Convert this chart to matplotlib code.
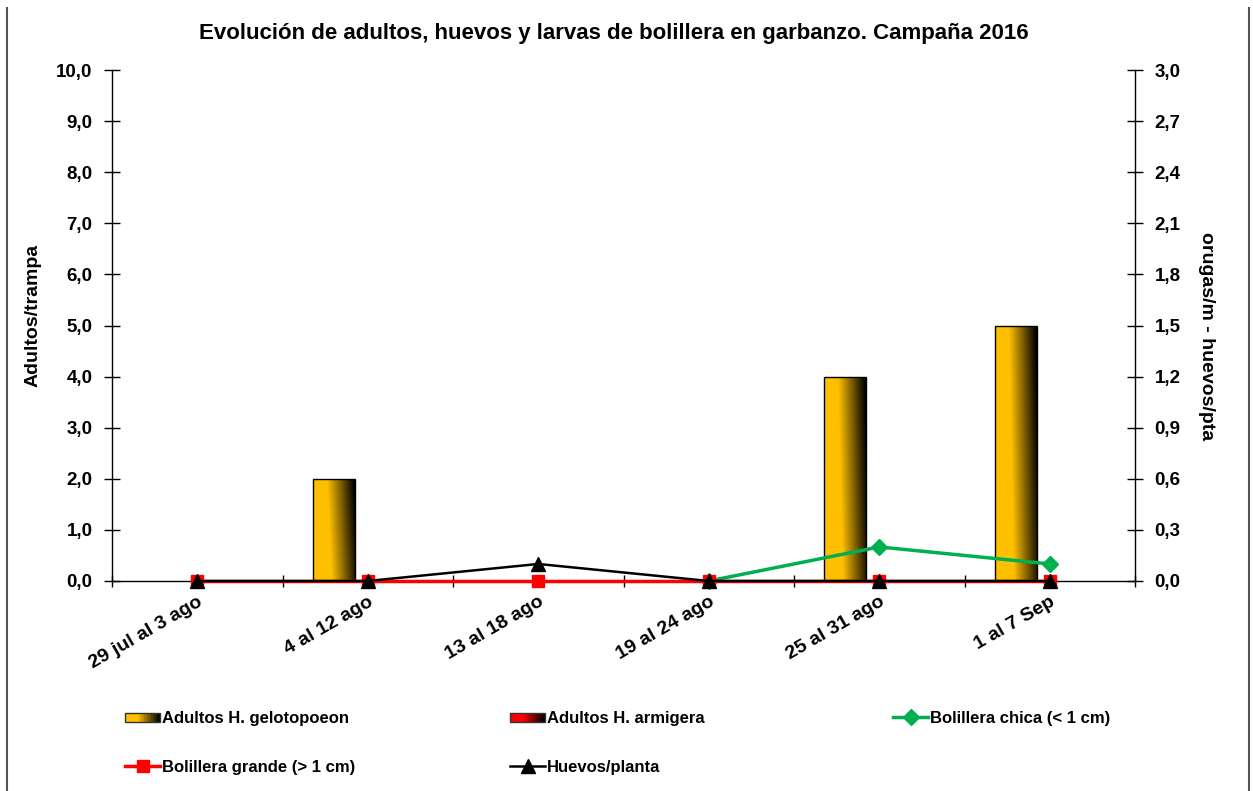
import numpy as np
import matplotlib
matplotlib.use("Agg")
import matplotlib.pyplot as plt
from matplotlib.patches import Rectangle
from matplotlib.lines import Line2D
from matplotlib.legend_handler import HandlerBase
from matplotlib.colors import to_rgb

plt.rcParams['font.family'] = ['Liberation Sans', 'DejaVu Sans']
plt.rcParams['font.weight'] = 'bold'

categories = ["29 jul al 3 ago", "4 al 12 ago", "13 al 18 ago", "19 al 24 ago", "25 al 31 ago", "1 al 7 Sep"]
adultos_gelotopoeon = [0, 2, 0, 0, 4, 5]
adultos_armigera = [0, 0, 0, 0, 0, 0]
bolillera_chica = [np.nan, np.nan, np.nan, 0.0, 0.2, 0.1]
bolillera_grande = [0, 0, 0, 0, 0, 0]
huevos_planta = [0, 0, 0.1, 0, 0, 0]

left_ticks = [0, 1, 2, 3, 4, 5, 6, 7, 8, 9, 10]
right_ticks = [0, 0.3, 0.6, 0.9, 1.2, 1.5, 1.8, 2.1, 2.4, 2.7, 3.0]

GOLD = "#FFC000"
RED = "#FF0000"
GREEN = "#00B050"

W, H = 1253, 791
fig = plt.figure(figsize=(W / 100, H / 100), dpi=100)
ax = fig.add_axes([112 / W, 1 - 581 / H, (1135 - 112) / W, (581 - 70) / H])
ax2 = ax.twinx()


def gradient_img(base, n=64):
    c = np.array(to_rgb(base))
    xs = np.linspace(0, 1, n)
    ys = np.linspace(1, 0, n)  # top row first
    X, Y = np.meshgrid(xs, ys)
    u = X + 0.12 * Y
    t = np.clip((u - 0.45) / 0.65, 0, 1)
    img = c[None, None, :] * (1 - t[..., None])
    return img


x = np.arange(len(categories))
bw = 0.246
off = -0.2
for xi, v in zip(x, adultos_gelotopoeon):
    if v > 0:
        r = Rectangle((xi + off - bw / 2, 0), bw, v, facecolor='none', edgecolor='black', lw=1.0, zorder=3)
        ax.add_patch(r)
        im = ax.imshow(gradient_img(GOLD), extent=(xi + off - bw / 2, xi + off + bw / 2, 0, v),
                       aspect='auto', zorder=2, interpolation='bilinear')
        im.set_clip_path(r)
for xi, v in zip(x, adultos_armigera):
    if v > 0:
        r = Rectangle((xi + off + bw / 2, 0), bw, v, facecolor=RED, edgecolor='black', lw=1.0, zorder=3)
        ax.add_patch(r)

TS = 13.5
ax.set_xlim(-0.5, len(categories) - 0.5)
ax.set_ylim(0, 10)
ax.set_yticks(left_ticks)
ax.set_yticklabels([f"{t:.1f}".replace('.', ',') for t in left_ticks], fontsize=TS, fontweight='bold')
ax.set_xticks(x)
ax.set_xticklabels(categories, rotation=30, ha='right', rotation_mode='anchor', fontsize=14, fontweight='bold')
ax.set_xticks(np.arange(-0.5, len(categories) + 0.5, 1), minor=True)
ax.tick_params(axis='x', which='major', length=0, pad=9)
ax.tick_params(axis='x', which='minor', direction='inout', length=8, width=1)
ax.tick_params(axis='y', direction='inout', length=12, width=1, pad=8)
for s in ['top', 'right']:
    ax.spines[s].set_visible(False)
ax.spines['left'].set_linewidth(1)
ax.spines['bottom'].set_linewidth(1)

ax2.set_ylim(0, 3.0)
ax2.set_yticks(right_ticks)
ax2.set_yticklabels([f"{t:.1f}".replace('.', ',') for t in right_ticks], fontsize=TS, fontweight='bold')
ax2.tick_params(axis='y', direction='inout', length=12, width=1, pad=8)
for s in ['top', 'left', 'bottom']:
    ax2.spines[s].set_visible(False)
ax2.spines['right'].set_linewidth(1)

fig.text(33 / W, 1 - 315 / H, "Adultos/trampa", rotation=90, ha='center', va='center',
         fontsize=14, fontweight='bold')
fig.text(1207 / W, 1 - 336 / H, "orugas/m - huevos/pta", rotation=-90, ha='center', va='center',
         fontsize=14, fontweight='bold')

l_chica, = ax2.plot(x, bolillera_chica, color=GREEN, lw=2.5, marker='D', markersize=8, zorder=3)
l_grande, = ax2.plot(x, bolillera_grande, color=RED, lw=2.5, marker='s', markersize=9, zorder=4)
l_huevos, = ax2.plot(x, huevos_planta, color='black', lw=1.8, marker='^', markersize=10, zorder=5)
for l in (l_chica, l_grande, l_huevos):
    l.set_clip_on(False)

fig.suptitle("Evolución de adultos, huevos y larvas de bolillera en garbanzo. Campaña 2016",
             x=614 / W, y=1 - 33 / H, fontsize=16, fontweight='bold', va='center')


class GradHandle:
    def __init__(self, color):
        self.color = color


class HandlerGrad(HandlerBase):
    def create_artists(self, legend, orig_handle, xdescent, ydescent, width, height, fontsize, trans):
        c = np.array(to_rgb(orig_handle.color))
        n = 24
        arts = []
        h = height * 0.8
        y0 = -ydescent + (height - h) / 2
        for i in range(n):
            t = np.clip((i / (n - 1) - 0.35) / 0.65, 0, 1)
            col = c * (1 - t)
            arts.append(Rectangle((-xdescent + width * i / n, y0), width / n + 0.3, h,
                                  facecolor=col, edgecolor='none', transform=trans))
        arts.append(Rectangle((-xdescent, y0), width, h, facecolor='none',
                              edgecolor='#333333', lw=1, transform=trans))
        return arts


hg = GradHandle(GOLD)
ha_ = GradHandle(RED)
leg_kw = dict(frameon=False, handlelength=2.1, handletextpad=0.1,
              borderpad=0, borderaxespad=0, labelspacing=2.05, loc='upper left',
              prop={'weight': 'bold', 'size': 12},
              handler_map={GradHandle: HandlerGrad()})
ytop = 1 - 711 / H
fig.legend([hg, l_grande], ["Adultos H. gelotopoeon", "Bolillera grande (> 1 cm)"],
           bbox_to_anchor=(125 / W, ytop), **leg_kw)
fig.legend([ha_, l_huevos], ["Adultos H. armigera", "Huevos/planta"],
           bbox_to_anchor=(510 / W, ytop), **leg_kw)
fig.legend([l_chica], ["Bolillera chica (< 1 cm)"],
           bbox_to_anchor=(893 / W, ytop), **leg_kw)

# outer frame lines
fig.add_artist(Line2D([7 / W, 7 / W], [0, 1 - 8 / H], color='#555555', lw=1.5, transform=fig.transFigure))
fig.add_artist(Line2D([1249 / W, 1249 / W], [0, 1 - 8 / H], color='#555555', lw=1.5, transform=fig.transFigure))

fig.savefig("out.png", dpi=100, facecolor='white')
